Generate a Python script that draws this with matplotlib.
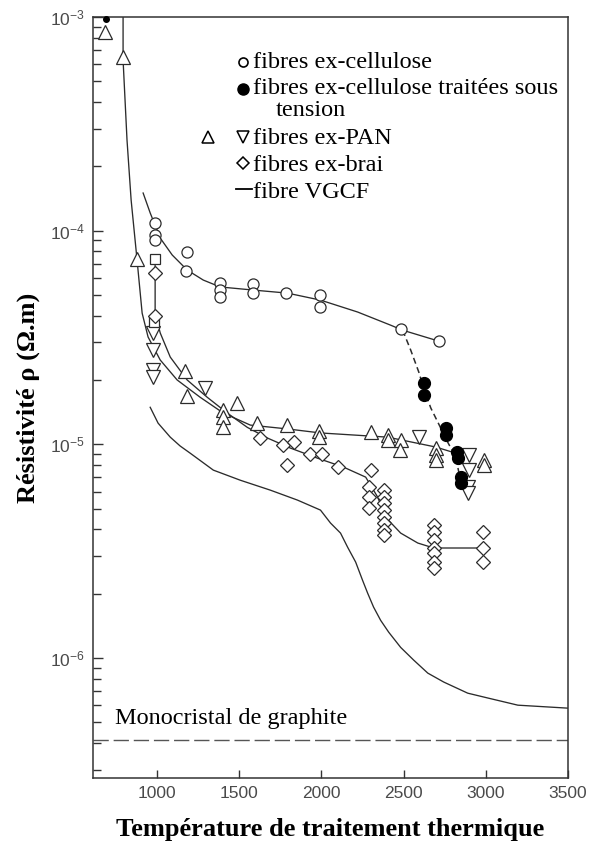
import matplotlib
matplotlib.use("Agg")
import matplotlib.pyplot as plt
from matplotlib.ticker import LogLocator, NullFormatter, FixedLocator

plt.rcParams['mathtext.fontset'] = 'custom'
plt.rcParams['mathtext.rm'] = 'Liberation Sans'
plt.rcParams['mathtext.it'] = 'Liberation Sans:italic'
plt.rcParams['mathtext.bf'] = 'Liberation Sans:bold'

# ---------------- data (temperature in °C, resistivity in Ohm.m) ----------------
cell_T = [988, 988, 988, 1183, 1177, 1384, 1384, 1384, 1586, 1586, 1787, 1994, 1994, 2482, 2714]
cell_rho = [1.087e-4, 9.54e-5, 9.04e-5, 7.94e-5, 6.47e-5, 5.69e-5, 5.27e-5, 4.89e-5,
            5.62e-5, 5.10e-5, 5.10e-5, 4.99e-5, 4.39e-5, 3.46e-5, 3.04e-5]
cell_curve_T = [915, 958, 1019, 1092, 1183, 1281, 1384, 1586, 1793, 1994, 2220, 2421, 2494, 2714]
cell_curve_rho = [1.50e-4, 1.21e-4, 9.23e-5, 7.69e-5, 6.54e-5, 5.87e-5, 5.45e-5, 5.27e-5,
                  5.10e-5, 4.73e-5, 4.16e-5, 3.61e-5, 3.42e-5, 3.04e-5]

tens_T = [2622, 2622, 2756, 2756, 2823, 2829, 2848, 2848]
tens_rho = [1.93e-5, 1.70e-5, 1.19e-5, 1.10e-5, 9.19e-6, 8.61e-6, 7.02e-6, 6.58e-6]
tens_curve_T = [2494, 2543, 2592, 2622, 2665, 2726, 2769, 2817, 2848]
tens_curve_rho = [3.42e-5, 2.76e-5, 2.18e-5, 1.83e-5, 1.48e-5, 1.19e-5, 1.02e-5, 8.71e-6, 6.65e-6]
tens_small_T = [689]
tens_small_rho = [9.79e-4]

pan_up_T = [683, 793, 878, 1171, 1183, 1403, 1403, 1403, 1488, 1610, 1793, 1982, 1982,
            2299, 2403, 2403, 2482, 2476, 2695, 2695, 2695, 2988, 2988]
pan_up_rho = [8.51e-4, 6.50e-4, 7.36e-5, 2.20e-5, 1.68e-5, 1.445e-5, 1.34e-5, 1.20e-5,
              1.56e-5, 1.256e-5, 1.23e-5, 1.16e-5, 1.08e-5, 1.14e-5, 1.10e-5, 1.047e-5,
              1.047e-5, 9.40e-6, 9.60e-6, 8.90e-6, 8.43e-6, 8.43e-6, 8.00e-6]
pan_down_T = [976, 976, 976, 976, 1293, 2592, 2897, 2897, 2890, 2890]
pan_down_rho = [3.32e-5, 2.76e-5, 2.22e-5, 2.06e-5, 1.83e-5, 1.08e-5, 8.90e-6, 7.57e-6,
                6.30e-6, 5.91e-6]
square_T = [988, 982]
square_rho = [7.36e-5, 3.73e-5]
pan_curve_T = [793, 793, 817, 842, 878, 909, 945, 1019, 1122, 1262, 1403, 1567, 1793,
               1994, 2403, 2695, 2817]
pan_curve_rho = [1.0e-3, 6.29e-4, 2.65e-4, 1.39e-4, 7.3e-5, 4.11e-5, 3.18e-5, 2.48e-5,
                 2.00e-5, 1.66e-5, 1.40e-5, 1.23e-5, 1.18e-5, 1.13e-5, 1.08e-5, 9.71e-6, 9.09e-6]

brai_T = [988, 988, 1628, 1769, 1830, 1793, 1933, 2006, 2098, 2299, 2287, 2287, 2287,
          2378, 2378, 2378, 2378, 2378, 2378, 2378, 2378,
          2683, 2683, 2683, 2683, 2683, 2683, 2683, 2982, 2982, 2982]
brai_rho = [6.33e-5, 3.98e-5, 1.07e-5, 9.91e-6, 1.023e-5, 8.00e-6, 8.99e-6, 8.99e-6,
            7.82e-6, 7.57e-6, 6.30e-6, 5.66e-6, 5.03e-6,
            6.10e-6, 5.66e-6, 5.31e-6, 4.92e-6, 4.56e-6, 4.28e-6, 3.96e-6, 3.76e-6,
            4.19e-6, 3.88e-6, 3.56e-6, 3.27e-6, 3.10e-6, 2.81e-6, 2.63e-6,
            3.88e-6, 3.27e-6, 2.81e-6]
brai_curve_T = [988, 988, 1019, 1080, 1183, 1305, 1427, 1549, 1671, 1811, 1976, 2134,
                2269, 2342, 2390, 2482, 2586, 2683, 2982]
brai_curve_rho = [7.05e-5, 4.11e-5, 3.32e-5, 2.56e-5, 2.00e-5, 1.66e-5, 1.40e-5, 1.20e-5,
                  1.07e-5, 9.60e-6, 8.61e-6, 7.82e-6, 7.02e-6, 5.66e-6, 4.56e-6, 3.84e-6,
                  3.45e-6, 3.27e-6, 3.27e-6]

vgcf_T = [958, 1006, 1080, 1140, 1201, 1342, 1506, 1689, 1854, 1994, 2055, 2116, 2159,
          2208, 2250, 2281, 2317, 2360, 2409, 2482, 2561, 2647, 2744, 2890, 3013, 3195, 3500]
vgcf_rho = [1.49e-5, 1.256e-5, 1.08e-5, 9.82e-6, 9.09e-6, 7.57e-6, 6.79e-6, 6.10e-6,
            5.48e-6, 4.92e-6, 4.28e-6, 3.84e-6, 3.30e-6, 2.81e-6, 2.31e-6, 2.01e-6,
            1.73e-6, 1.50e-6, 1.32e-6, 1.12e-6, 9.77e-7, 8.49e-7, 7.71e-7, 6.84e-7,
            6.49e-7, 6.01e-7, 5.82e-7]

graphite_rho = 4.13e-7

x_ticks = [1000, 1500, 2000, 2500, 3000, 3500]
x_tick_labels = ['1000', '1500', '2000', '2500', '3000', '3500']
y_major = [1e-6, 1e-5, 1e-4, 1e-3]
y_tick_labels = [r'$\mathregular{10^{-6}}$', r'$\mathregular{10^{-5}}$',
                 r'$\mathregular{10^{-4}}$', r'$\mathregular{10^{-3}}$']

legend_labels = ['fibres ex-cellulose', 'fibres ex-cellulose traitées sous', 'tension',
                 'fibres ex-PAN', 'fibres ex-brai', 'fibre VGCF']
graphite_label = 'Monocristal de graphite'
xlabel = 'Température de traitement thermique'
ylabel = 'Résistivité ρ (Ω.m)'

# ---------------- figure ----------------
W, H = 595, 846
fig = plt.figure(figsize=(W / 100, H / 100), dpi=100)
L, R, T_, B = 93, 568, 17, 778
ax = fig.add_axes([L / W, 1 - B / H, (R - L) / W, (B - T_) / H])
ax.set_yscale('log')
ax.set_xlim(610, 3500)
ax.set_ylim(10 ** -6.562, 1e-3)

line_col = '#2b2b2b'
lw = 0.95
ms_kw = dict(linestyle='none', markeredgecolor=line_col, markeredgewidth=0.9,
             markerfacecolor='white', zorder=4)

# curves
ax.plot(cell_curve_T, cell_curve_rho, color=line_col, lw=lw, zorder=2)
ax.plot(tens_curve_T, tens_curve_rho, color=line_col, lw=1.1, dashes=(4, 2.5), zorder=2)
ax.plot(pan_curve_T, pan_curve_rho, color=line_col, lw=lw, zorder=2)
ax.plot(brai_curve_T, brai_curve_rho, color=line_col, lw=lw, zorder=2)
ax.plot(vgcf_T, vgcf_rho, color=line_col, lw=lw, zorder=2)
ax.axhline(graphite_rho, color='#555555', lw=1.0, dashes=(11, 3.5), zorder=2)

# markers
ax.plot(cell_T, cell_rho, marker='o', markersize=8, **ms_kw)
ax.plot(pan_up_T, pan_up_rho, marker='^', markersize=9.5, **ms_kw)
ax.plot(pan_down_T, pan_down_rho, marker='v', markersize=9.5, **ms_kw)
ax.plot(square_T, square_rho, marker='s', markersize=7.5, **ms_kw)
ax.plot(brai_T, brai_rho, marker='D', markersize=7, **ms_kw)
ax.plot(tens_T, tens_rho, marker='o', markersize=8.5, linestyle='none',
        color='black', zorder=5)
ax.plot(tens_small_T, tens_small_rho, marker='o', markersize=4, linestyle='none',
        color='black', zorder=5, clip_on=False)

# axes styling
for s in ax.spines.values():
    s.set_color('#333333')
    s.set_linewidth(1.1)
ax.xaxis.set_major_locator(FixedLocator(x_ticks))
ax.set_xticklabels(x_tick_labels)
ax.yaxis.set_major_locator(FixedLocator(y_major))
ax.set_yticklabels(y_tick_labels)
ax.yaxis.set_minor_locator(LogLocator(base=10, subs=[2, 3, 4, 5, 6, 7, 8, 9], numticks=20))
ax.yaxis.set_minor_formatter(NullFormatter())
ax.tick_params(axis='both', which='both', direction='in', top=False, right=False,
               colors='#333333', width=1.0)
ax.tick_params(axis='y', which='major', length=7, pad=6)
ax.tick_params(axis='y', which='minor', length=5.5)
ax.tick_params(axis='x', which='major', length=6, pad=6)
for lab in ax.get_xticklabels() + ax.get_yticklabels():
    lab.set_fontfamily('Liberation Sans')
    lab.set_fontsize(12.5)
    lab.set_color('#4a4a4a')

serif = 'Liberation Serif'
ax.set_xlabel(xlabel, fontfamily=serif, fontweight='bold', fontsize=19, labelpad=12,
              color='black')
ax.set_ylabel(ylabel, fontfamily=serif, fontweight='bold', fontsize=19, labelpad=7,
              color='black')


def axpt(x, y):
    return ((x - L) / (R - L), 1 - (y - T_) / (B - T_))


# legend block (inside axes)
fs = 17.5
rows_y = [62, 88, 111, 138, 165, 192]
text_x = [253, 253, 276, 253, 253, 253]
for lab, yy, xx in zip(legend_labels, rows_y, text_x):
    ax.text(*axpt(xx, yy), lab, transform=ax.transAxes, fontfamily=serif, fontsize=fs,
            va='center', ha='left')
lk = dict(transform=ax.transAxes, clip_on=False, linestyle='none', zorder=6)
ax.plot(*axpt(243, 62), marker='o', markersize=6.5, markerfacecolor='white',
        markeredgecolor='black', markeredgewidth=1.2, **lk)
ax.plot(*axpt(243, 89), marker='o', markersize=8, color='black', **lk)
ax.plot(*axpt(208, 137), marker='^', markersize=8.5, markerfacecolor='white',
        markeredgecolor='black', markeredgewidth=1.1, **lk)
ax.plot(*axpt(243, 137), marker='v', markersize=8.5, markerfacecolor='white',
        markeredgecolor='black', markeredgewidth=1.1, **lk)
ax.plot(*axpt(243, 163), marker='D', markersize=6.5, markerfacecolor='white',
        markeredgecolor='black', markeredgewidth=1.1, **lk)
x0, y0 = axpt(236, 189)
x1, _ = axpt(252, 189)
ax.plot([x0, x1], [y0, y0], color='black', lw=1.3, transform=ax.transAxes, zorder=6)

ax.text(*axpt(115, 718), graphite_label, transform=ax.transAxes, fontfamily=serif,
        fontsize=fs, va='center', ha='left')

fig.savefig('out.png', dpi=100)
